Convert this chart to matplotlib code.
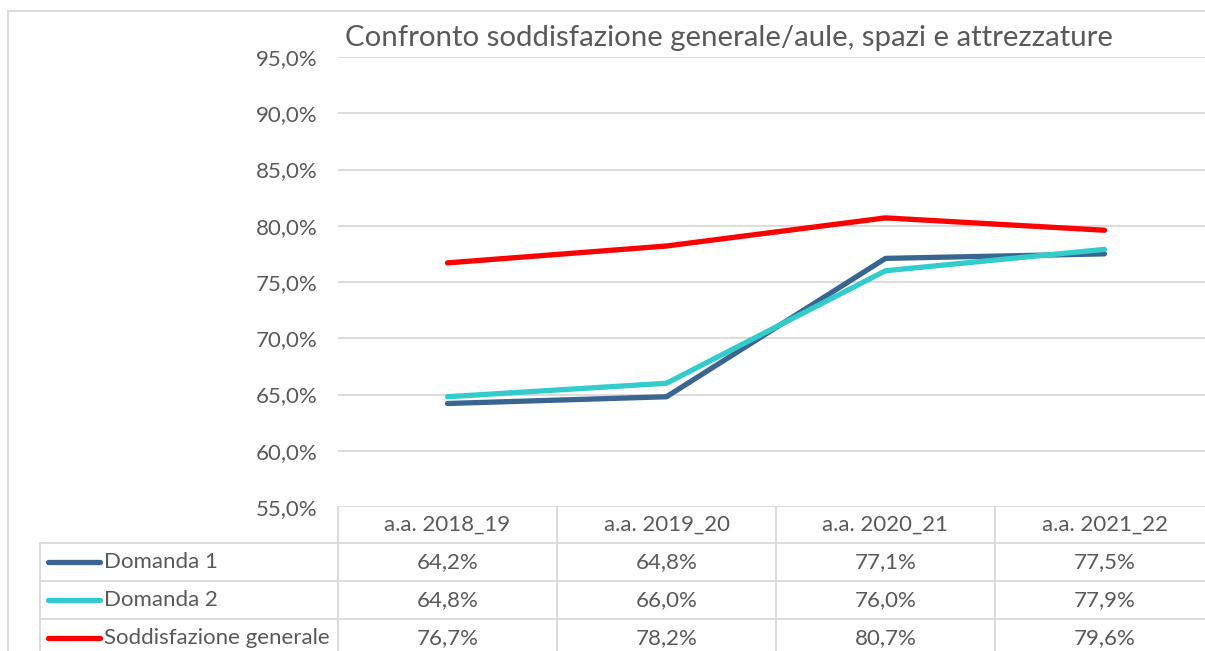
import matplotlib.pyplot as plt
from matplotlib.lines import Line2D

plt.rcParams['font.family'] = ['Lato', 'DejaVu Sans']

categories = ['a.a. 2018_19', 'a.a. 2019_20', 'a.a. 2020_21', 'a.a. 2021_22']
domanda1 = [64.2, 64.8, 77.1, 77.5]
domanda2 = [64.8, 66.0, 76.0, 77.9]
soddisf = [76.7, 78.2, 80.7, 79.6]
series_names = ['Domanda 1', 'Domanda 2', 'Soddisfazione generale']
colors = ['#3B6591', '#33CCCC', '#FF0000']
yticks = [55, 60, 65, 70, 75, 80, 85, 90, 95]

W, H = 1205, 651
grid_col = '#D9D9D9'
txt_col = '#595959'
fs = 16

fig = plt.figure(figsize=(W / 100, H / 100), dpi=100)
# plot area in pixels: x 338..1214, y 57..507
x0, x1, ytop, ybot = 338, 1214, 57, 507
ax = fig.add_axes([x0 / W, 1 - ybot / H, (x1 - x0) / W, (ybot - ytop) / H])

xs = range(len(categories))
for vals, c in zip([domanda1, domanda2, soddisf], colors):
    ax.plot(xs, vals, color=c, lw=3.8, solid_capstyle='round', zorder=3)

ax.set_xlim(-0.5, len(categories) - 0.5)
ax.set_ylim(55, 95)
ax.set_yticks(yticks)
ax.set_yticklabels([f"{v:.1f}%".replace('.', ',') for v in yticks],
                   fontsize=fs, color=txt_col)
ax.tick_params(axis='y', length=0, pad=15)
ax.set_xticks([])
for s in ax.spines.values():
    s.set_visible(False)
ax.grid(axis='y', color=grid_col, lw=1.3, zorder=0)

fig.text(345 / W, 1 - 38 / H, 'Confronto soddisfazione generale/aule, spazi e attrezzature',
         fontsize=21.2, color=txt_col, ha='left', va='center')

# data table below the plot
px = 1 / (ybot - ytop)  # one pixel in axes-fraction units
rows_y = [0, -36 * px, -74 * px, -112 * px, -150 * px]
tr = ax.get_xaxis_transform()
left_x = -0.5 - (x0 - 40) / ((x1 - x0) / len(categories))
kw = dict(transform=tr, clip_on=False, color=grid_col, lw=1.3)

for y in rows_y[1:4]:
    ax.add_line(Line2D([left_x, len(categories) - 0.5], [y, y], **kw))
for i in range(len(categories) + 1):
    ax.add_line(Line2D([i - 0.5, i - 0.5], [0, rows_y[-1]], **kw))
ax.add_line(Line2D([left_x, left_x], [rows_y[1], rows_y[-1]], **kw))

for i, cat in enumerate(categories):
    ax.text(i, (rows_y[0] + rows_y[1]) / 2, cat, transform=tr, ha='center', va='center',
            fontsize=fs, color=txt_col)

step = (x1 - x0) / len(categories)
for r, (name, vals, c) in enumerate(zip(series_names, [domanda1, domanda2, soddisf], colors)):
    yc = (rows_y[r + 1] + rows_y[r + 2]) / 2
    ax.add_line(Line2D([left_x + 8 / step, left_x + 60 / step], [yc, yc], transform=tr,
                       clip_on=False, color=c, lw=3.8, solid_capstyle='round'))
    ax.text(left_x + 64 / step, yc, name, transform=tr, ha='left', va='center',
            fontsize=fs, color=txt_col)
    for i, v in enumerate(vals):
        ax.text(i, yc, f"{v:.1f}%".replace('.', ','), transform=tr, ha='center',
                va='center', fontsize=fs, color=txt_col)

# chart border
fig.add_artist(Line2D([8 / W, 8 / W], [0, 1 - 11 / H], color=grid_col, lw=1.3))
fig.add_artist(Line2D([8 / W, 1], [1 - 11 / H, 1 - 11 / H], color=grid_col, lw=1.3))

fig.savefig('out.png', dpi=100, facecolor='white')
